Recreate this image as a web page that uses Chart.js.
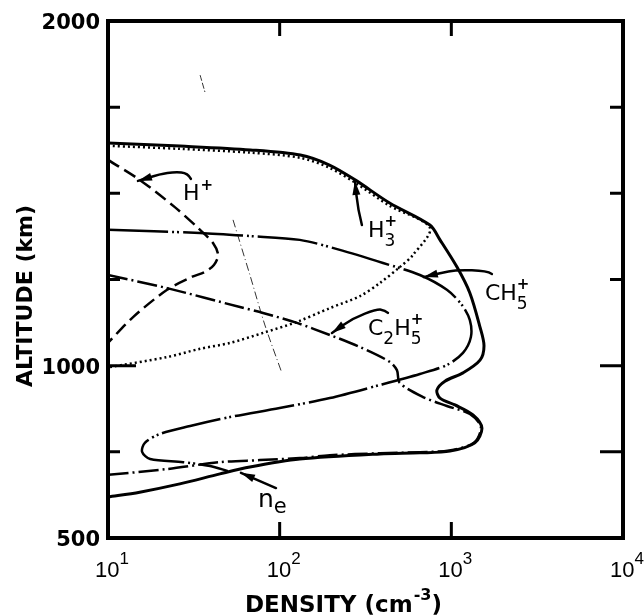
<!DOCTYPE html>
<html>
<head>
<meta charset="utf-8">
<script src="https://cdn.jsdelivr.net/npm/chart.js@4/dist/chart.umd.min.js"></script>
<style>
  html, body { margin: 0; padding: 0; background: #fff; }
</style>
</head>
<body>
<canvas id="chart" width="644" height="616"></canvas>
<script>
// Ejes
const xTicks = [10, 100, 1000, 10000];
const xTickPowers = ['1', '2', '3', '4'];
const yTicks = [500, 750, 1000, 1250, 1500, 1750, 2000];
const yLabeled = [500, 1000, 2000];

// n_e (linea continua)
const neDensity  = [10, 26.3, 67.6, 132, 195, 275, 437, 750, 859, 1079, 1282, 1469, 1550, 1469, 1169, 918, 824, 859, 1050, 1337, 1507, 1371, 982, 656, 384, 131, 67.1, 44.9, 26.2, 15.3, 10];
const neAltitude = [1646, 1637, 1626, 1611, 1582, 1539, 1472, 1408, 1365, 1286, 1211, 1112, 1058, 1016, 979, 955, 929, 906, 886, 857, 819, 776, 752, 747, 744, 729, 706, 686, 657, 633, 619];

// H3+ (punteado)
const h3Density  = [10, 26.3, 67.6, 132, 195, 275, 437, 750, 597, 501, 384, 294, 196, 126, 80, 51.4, 34.4, 22.1, 10];
const h3Altitude = [1638, 1629, 1618, 1603, 1574, 1531, 1464, 1400, 1321, 1286, 1240, 1202, 1167, 1127, 1095, 1066, 1049, 1025, 995];

// H+ (discontinua)
const hDensity  = [10, 15.3, 24.5, 34.4, 40.9, 43.8, 41.4, 36.7, 31.0, 22.1, 14.0, 10];
const hAltitude = [1597, 1539, 1460, 1394, 1356, 1321, 1292, 1272, 1258, 1220, 1141, 1066];

// CH5+ (raya larga, dos puntos)
const ch5Density  = [10, 34.4, 67.1, 131, 224, 400, 656, 942, 1153, 1282, 1300, 1169, 942, 656, 384, 196, 100, 51.4, 30.1, 20.1, 16.4, 15.8, 17.6, 27.4, 39.3, 50.0];
const ch5Altitude = [1394, 1385, 1376, 1365, 1336, 1298, 1263, 1220, 1176, 1132, 1083, 1037, 1002, 976, 944, 906, 877, 851, 825, 802, 776, 750, 729, 720, 709, 694];

// C2H5+ (raya-punto)
const c2h5Density  = [10, 22.1, 58.7, 80, 126, 196, 294, 438, 482, 501, 684, 942, 1282, 1486, 1352, 973, 656, 384, 196, 131, 76.7, 44.9, 22.1, 10];
const c2h5Altitude = [1263, 1225, 1170, 1153, 1124, 1089, 1054, 1011, 987, 950, 909, 883, 860, 822, 776, 754, 749, 746, 740, 732, 726, 720, 700, 683];

// trazos finos sueltos del original
const strayDensity  = [53.5, 67.1, 82.0, 103];
const strayAltitude = [1423, 1263, 1118, 979];
const stray2Density  = [34.4, 36.7];
const stray2Altitude = [1843, 1794];

// Etiquetas: [texto, base x (densidad), base y (altitud)], flechas como polilinea
const labels = [
  { parts: [['H', 'n'], ['+', 'sup']], at: [27.35, 1481], arrow: [[30.4, 1542], [29.2, 1559], [24.5, 1562], [20.1, 1556], [14.95, 1536]] },
  { parts: [['H', 'n'], ['+', 'supk'], ['3', 'sub']], at: [326.9, 1373], arrow: [[301.3, 1408], [285.8, 1452], [274.5, 1536]] },
  { parts: [['CH', 'n'], ['+', 'supk'], ['5', 'sub']], at: [1569.6, 1190], arrow: [[1723, 1266], [1612, 1275], [1078, 1278], [858.5, 1269], [691.8, 1257]] },
  { parts: [['C', 'n'], ['2', 'sub'], ['H', 'n'], ['+', 'supk'], ['5', 'sub']], at: [326.9, 1089], arrow: [[427.3, 1153], [410.5, 1161], [368.7, 1164], [267.3, 1138], [201.7, 1095]] },
  { parts: [['n', 'big'], ['e', 'sube']], at: [74.7, 590], arrow: [[95.2, 645], [59.5, 689]] }
];

const pts = (xs, ys) => xs.map((x, i) => ({ x, y: ys[i] }));
const series = (label, xs, ys, dash, width, color = '#000') => ({
  label, data: pts(xs, ys), showLine: true, borderColor: color, backgroundColor: color,
  borderWidth: width, borderDash: dash, pointRadius: 0, tension: 0.3, fill: false
});

const FONTS = {
  n:    '22px "DejaVu Sans"',
  big:  '25px "DejaVu Sans"',
  sup:  'bold 15px "DejaVu Sans"',
  supk: 'bold 15px "DejaVu Sans"',
  sub:  '17px "DejaVu Sans"',
  sube: '21px "DejaVu Sans"'
};
const DY = { n: 0, big: 0, sup: -10, supk: -11, sub: 9, sube: 6 };

function drawParts(ctx, x, y, parts) {
  let cx = x;
  parts.forEach(([t, k]) => {
    ctx.font = FONTS[k];
    ctx.fillText(t, cx + (k === 'sup' ? 1 : 0), y + DY[k]);
    if (k !== 'supk') cx += ctx.measureText(t).width + (k === 'sup' ? 1 : 0);
  });
}

function drawArrow(ctx, p) {
  ctx.beginPath();
  ctx.moveTo(p[0][0], p[0][1]);
  for (let i = 1; i < p.length - 1; i++) {
    const mx = (p[i][0] + p[i + 1][0]) / 2, my = (p[i][1] + p[i + 1][1]) / 2;
    ctx.quadraticCurveTo(p[i][0], p[i][1], mx, my);
  }
  const tip = p[p.length - 1], prev = p[p.length - 2];
  ctx.lineTo(tip[0], tip[1]);
  ctx.stroke();
  const a = Math.atan2(tip[1] - prev[1], tip[0] - prev[0]);
  const L = 14, W = 4;
  ctx.beginPath();
  ctx.moveTo(tip[0], tip[1]);
  ctx.lineTo(tip[0] - L * Math.cos(a) + W * Math.sin(a), tip[1] - L * Math.sin(a) - W * Math.cos(a));
  ctx.lineTo(tip[0] - L * Math.cos(a) - W * Math.sin(a), tip[1] - L * Math.sin(a) + W * Math.cos(a));
  ctx.closePath();
  ctx.fill();
}

const decor = {
  id: 'decor',
  afterDraw(chart) {
    const { ctx, chartArea: a, scales: { x, y } } = chart;
    ctx.save();
    ctx.strokeStyle = '#000';
    ctx.fillStyle = '#000';

    // marco
    ctx.lineWidth = 4;
    ctx.strokeRect(a.left, a.top, a.right - a.left, a.bottom - a.top);

    // marcas hacia dentro
    ctx.lineWidth = 3;
    const leftLen = { 750: 12, 1000: 28, 1250: 12, 1500: 12, 1750: 12 };
    const rightLen = { 750: 23, 1000: 23, 1250: 13, 1500: 13, 1750: 13 };
    yTicks.forEach(v => {
      if (!leftLen[v]) return;
      const py = y.getPixelForValue(v);
      ctx.beginPath();
      ctx.moveTo(a.left, py); ctx.lineTo(a.left + leftLen[v], py);
      ctx.moveTo(a.right, py); ctx.lineTo(a.right - rightLen[v], py);
      ctx.stroke();
    });
    xTicks.slice(1, -1).forEach(v => {
      const px = x.getPixelForValue(v);
      ctx.beginPath();
      ctx.moveTo(px, a.top); ctx.lineTo(px, a.top + 15);
      ctx.moveTo(px, a.bottom); ctx.lineTo(px, a.bottom - 16);
      ctx.stroke();
    });

    // etiquetas eje y
    ctx.font = 'bold 21px "DejaVu Sans"';
    ctx.textAlign = 'right';
    ctx.textBaseline = 'middle';
    yLabeled.forEach(v => ctx.fillText(String(v), a.left - 8, y.getPixelForValue(v) + 3));

    // etiquetas eje x (10^n)
    ctx.textAlign = 'left';
    ctx.textBaseline = 'alphabetic';
    xTicks.forEach((v, i) => {
      ctx.font = '22px "Liberation Sans"';
      const wb = ctx.measureText('10').width;
      ctx.font = '17px "Liberation Sans"';
      const we = ctx.measureText(xTickPowers[i]).width;
      const left = x.getPixelForValue(v) + 4 - (wb + we) / 2;
      ctx.font = '22px "Liberation Sans"';
      ctx.fillText('10', left, 577);
      ctx.font = '17px "Liberation Sans"';
      ctx.fillText(xTickPowers[i], left + wb, 564);
    });

    // titulo eje x
    ctx.font = 'bold 23px "DejaVu Sans"';
    let tx = 245;
    ctx.fillText('DENSITY (cm', tx, 612);
    tx += ctx.measureText('DENSITY (cm').width;
    ctx.font = 'bold 16px "DejaVu Sans"';
    ctx.fillText('-3', tx + 1, 600);
    tx += ctx.measureText('-3').width + 1;
    ctx.font = 'bold 23px "DejaVu Sans"';
    ctx.fillText(')', tx, 612);

    // titulo eje y
    ctx.save();
    ctx.translate(32, 296);
    ctx.rotate(-Math.PI / 2);
    ctx.font = 'bold 22px "DejaVu Sans"';
    ctx.textAlign = 'center';
    ctx.fillText('ALTITUDE (km)', 0, 0);
    ctx.restore();

    // etiquetas de curvas con flechas
    ctx.lineWidth = 2.5;
    ctx.lineCap = 'round';
    ctx.lineJoin = 'round';
    labels.forEach(l => {
      drawArrow(ctx, l.arrow.map(([d, h]) => [x.getPixelForValue(d), y.getPixelForValue(h)]));
      drawParts(ctx, x.getPixelForValue(l.at[0]), y.getPixelForValue(l.at[1]), l.parts);
    });

    ctx.restore();
  }
};

new Chart(document.getElementById('chart').getContext('2d'), {
  type: 'scatter',
  data: {
    datasets: [
      series('n_e', neDensity, neAltitude, [], 3),
      series('H3+', h3Density, h3Altitude, [2, 3], 2.5),
      series('H+', hDensity, hAltitude, [13, 6], 2.5),
      series('CH5+', ch5Density, ch5Altitude, [60, 4, 2, 3, 2, 4], 2.5),
      series('C2H5+', c2h5Density, c2h5Altitude, [20, 4, 2, 4], 2.5),
      series('stray', strayDensity, strayAltitude, [8, 3, 1, 3], 1, '#333'),
      series('stray2', stray2Density, stray2Altitude, [6, 2], 1, '#333')
    ]
  },
  options: {
    responsive: false,
    animation: false,
    devicePixelRatio: 1,
    layout: { padding: { left: 108, top: 21, right: 21, bottom: 78 } },
    plugins: { legend: { display: false }, tooltip: { enabled: false } },
    events: [],
    scales: {
      x: { type: 'logarithmic', min: 10, max: 10000, display: false },
      y: { type: 'linear', min: 500, max: 2000, display: false }
    }
  },
  plugins: [decor]
});
</script>
</body>
</html>
